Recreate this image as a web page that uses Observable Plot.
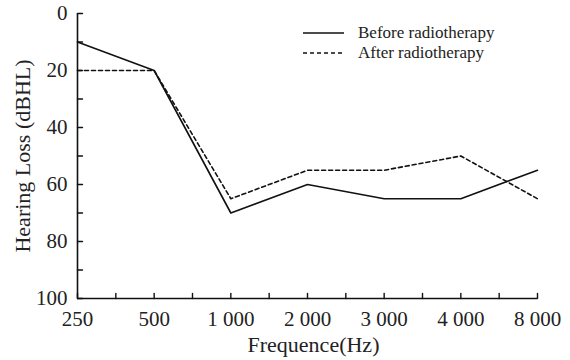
<!DOCTYPE html>
<html>
<head>
<meta charset="utf-8">
<script src="https://cdn.jsdelivr.net/npm/d3@7"></script>
<script src="https://cdn.jsdelivr.net/npm/@observablehq/plot@0.6"></script>
<style>
  html, body { margin: 0; padding: 0; background: #fff; }
  #wrap { position: relative; width: 570px; height: 360px; font-family: "Liberation Serif", "Times New Roman", serif; color: #222; }
  #legend { position: absolute; left: 303px; top: 23px; font-size: 17px; line-height: 20px; }
  #legend div { display: flex; align-items: center; height: 20px; }
  #legend svg { margin-right: 14px; }
</style>
</head>
<body>
<div id="wrap"><div id="legend"></div></div>
<script>
const frequencies = ["250", "500", "1 000", "2 000", "3 000", "4 000", "8 000"];
const before = [10, 20, 70, 60, 65, 65, 55];
const after  = [20, 20, 65, 55, 55, 50, 65];
const seriesNames = ["Before radiotherapy", "After radiotherapy"];
const seriesDash = [null, "4,3"];
const yMajor = [0, 20, 40, 60, 80, 100];
const yMinor = [10, 30, 50, 70, 90];

const idx = frequencies.map((_, i) => i);
const xTicks = d3.range(0, frequencies.length - 0.5 + 1e-9, 0.5);
const beforeData = idx.map(i => ({x: i, y: before[i]}));
const afterData = idx.map(i => ({x: i, y: after[i]}));

const tickShape = {draw(context, l) { context.moveTo(0, 0); context.lineTo(0, -l); }};

const plot = Plot.plot({
  width: 570,
  height: 360,
  marginLeft: 77,
  marginRight: 33,
  marginTop: 13,
  marginBottom: 62,
  style: {fontFamily: "Liberation Serif, Times New Roman, serif", fontSize: "21px", color: "#222", background: "white"},
  x: {type: "linear", domain: [0, frequencies.length - 1]},
  y: {domain: [0, 100], reverse: true},
  marks: [
    Plot.axisY({ticks: yMajor, tickSize: 0, tickPadding: 10, tickFormat: d => String(d), label: null}),
    Plot.axisX({ticks: idx, tickSize: 0, tickPadding: 13, tickFormat: i => frequencies[i], label: null}),
    Plot.text(["Frequence(Hz)"], {frameAnchor: "bottom", dy: 53, fontSize: 22, lineAnchor: "bottom", dx: 6, fill: "#222", style: "letter-spacing:0.6px"}),
    Plot.text(["Hearing Loss (dBHL)"], {frameAnchor: "left", dx: -55, rotate: -90, textAnchor: "middle", fontSize: 22, fill: "#222"}),
    Plot.ruleX([0], {stroke: "#111", strokeWidth: 1.6}),
    Plot.ruleY([100], {stroke: "#111", strokeWidth: 1.6}),
    Plot.vector(yMajor.concat(yMinor), {x: 0, y: d => d, length: 5, rotate: 90, anchor: "start", shape: tickShape, stroke: "#111", strokeWidth: 1.4}),
    Plot.vector(xTicks, {x: d => d, y: 100, length: 5, rotate: 0, anchor: "start", shape: tickShape, stroke: "#111", strokeWidth: 1.4}),
    Plot.line(beforeData, {x: "x", y: "y", stroke: "#111", strokeWidth: 1.6}),
    Plot.line(afterData, {x: "x", y: "y", stroke: "#111", strokeWidth: 1.6, strokeDasharray: seriesDash[1]})
  ]
});
document.getElementById("wrap").prepend(plot);

const legend = document.getElementById("legend");
seriesNames.forEach((name, i) => {
  const row = document.createElement("div");
  row.innerHTML = `<svg width="41" height="4"><line x1="0" y1="2" x2="41" y2="2" stroke="#111" stroke-width="1.6" ${seriesDash[i] ? `stroke-dasharray="${seriesDash[i]}"` : ""}/></svg><span>${name}</span>`;
  legend.appendChild(row);
});
</script>
</body>
</html>
